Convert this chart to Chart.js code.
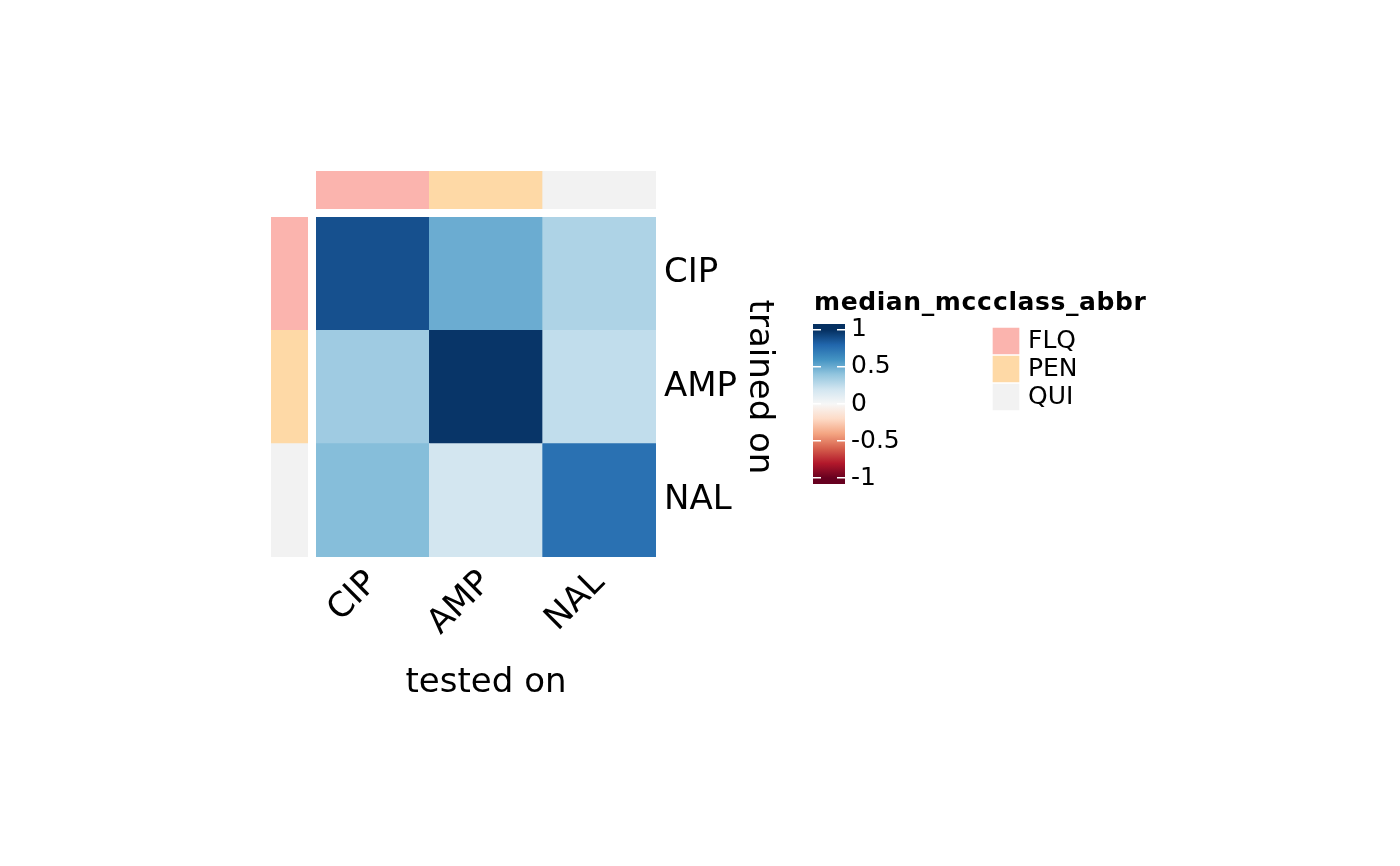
<!DOCTYPE html>
<html><head><meta charset="utf-8">
<script src="https://cdn.jsdelivr.net/npm/chart.js@4/dist/chart.umd.min.js"></script>
<style>
html,body{margin:0;padding:0;background:#fff;width:1400px;height:866px;overflow:hidden;font-family:"DejaVu Sans";}
canvas{position:absolute;}
.ttl{position:absolute;font:bold 25px "DejaVu Sans";line-height:25px;letter-spacing:0.6px;color:#000;white-space:nowrap;}
</style></head><body>
<canvas id="top" width="340" height="38" style="left:316px;top:171px"></canvas>
<canvas id="left" width="37" height="340" style="left:271px;top:217px"></canvas>
<canvas id="heat" width="463" height="487" style="left:316px;top:217px"></canvas>
<canvas id="cbar" width="130" height="202" style="left:813px;top:303px"></canvas>
<canvas id="cls" width="140" height="130" style="left:992px;top:304px"></canvas>
<div class="ttl" style="left:814px;top:289px">median_mcc</div>
<div class="ttl" style="left:993px;top:289px">class_abbr</div>
<script>
// ---- data ----
const testedOn = ['CIP', 'AMP', 'NAL'];          // columns
const trainedOn = ['CIP', 'AMP', 'NAL'];         // rows (top to bottom)
const mccCIP = [0.88, 0.50, 0.31];
const mccAMP = [0.36, 0.98, 0.25];
const mccNAL = [0.43, 0.19, 0.75];
const colClass = ['FLQ', 'PEN', 'QUI'];
const rowClass = ['FLQ', 'PEN', 'QUI'];
const classNames = ['FLQ', 'PEN', 'QUI'];
const classColors = ['#FBB4AE', '#FED9A6', '#F2F2F2'];
const cbTicks = [-1, -0.5, 0, 0.5, 1];
const cbLabels = ['-1', '-0.5', '0', '0.5', '1'];
const rdbu = ['#67001f','#b2182b','#d6604d','#f4a582','#fddbc7','#f7f7f7','#d1e5f0','#92c5de','#4393c3','#2166ac','#053061'];

const mccRows = [mccCIP, mccAMP, mccNAL];
Chart.defaults.font.family = 'DejaVu Sans';
Chart.defaults.color = '#000';
Chart.defaults.animation = false;
Chart.defaults.plugins.legend.display = false;
Chart.defaults.plugins.tooltip.enabled = false;

function hex2rgb(h){return [parseInt(h.slice(1,3),16),parseInt(h.slice(3,5),16),parseInt(h.slice(5,7),16)];}
function colorFor(v){
  const t = (Math.max(-1, Math.min(1, v)) + 1) / 2 * (rdbu.length - 1);
  const i = Math.min(rdbu.length - 2, Math.floor(t)), f = t - i;
  const a = hex2rgb(rdbu[i]), b = hex2rgb(rdbu[i+1]);
  const c = a.map((x,k)=>Math.round(x + (b[k]-x)*f));
  return 'rgb(' + c.join(',') + ')';
}
const classColor = n => classColors[classNames.indexOf(n)];
const noPad = s => { s.paddingTop = 0; s.paddingBottom = 0; s.paddingLeft = 0; s.paddingRight = 0; };

// ---- top annotation ----
new Chart(document.getElementById('top'), {
  type: 'bar',
  data: { labels: testedOn, datasets: [{ data: testedOn.map(()=>1), backgroundColor: colClass.map(classColor), borderWidth: 0, barPercentage: 1, categoryPercentage: 1 }] },
  options: { responsive: false, layout: { padding: 0, autoPadding: false },
    scales: { x: { display: false }, y: { display: false, min: 0, max: 1 } } }
});

// ---- left annotation ----
new Chart(document.getElementById('left'), {
  type: 'bar',
  data: { labels: trainedOn, datasets: [{ data: trainedOn.map(()=>1), backgroundColor: rowClass.map(classColor), borderWidth: 0, barPercentage: 1, categoryPercentage: 1 }] },
  options: { indexAxis: 'y', responsive: false, layout: { padding: 0, autoPadding: false },
    scales: { y: { display: false }, x: { display: false, min: 0, max: 1 } } }
});

// ---- heatmap ----
const heatSets = trainedOn.map((r, i) => ({
  label: r, data: testedOn.map(()=>1), backgroundColor: mccRows[i].map(colorFor),
  borderWidth: 0, barPercentage: 1, categoryPercentage: 1
})).reverse();
new Chart(document.getElementById('heat'), {
  type: 'bar',
  data: { labels: testedOn, datasets: heatSets },
  options: { responsive: false, layout: { padding: 0, autoPadding: false },
    scales: {
      x: { stacked: true, offset: true,
        grid: { display: false, drawTicks: false }, border: { display: false },
        ticks: { font: { size: 34 }, color: '#000', minRotation: 45, maxRotation: 45, autoSkip: false, padding: 6 },
        title: { display: true, text: 'tested on', font: { size: 34 }, color: '#000', padding: 0 },
        afterFit: s => { s.height = 147; noPad(s); } },
      y: { stacked: true, display: false, min: 0, max: 3 },
      y2: { type: 'category', labels: trainedOn, position: 'right', offset: true,
        grid: { display: false, drawTicks: false }, border: { display: false },
        ticks: { font: { size: 34 }, color: '#000', padding: 8, autoSkip: false },
        title: { display: true, text: 'trained on', font: { size: 34 }, color: '#000', padding: 0 },
        afterFit: s => { s.width = 123; noPad(s); } }
    } }
});

// ---- colour bar ----
new Chart(document.getElementById('cbar'), {
  type: 'bar',
  data: { labels: ['median_mcc'], datasets: [{
    data: [[-1.08, 1.08]], borderWidth: 0, barPercentage: 1, categoryPercentage: 1,
    backgroundColor: (ctx) => {
      const ch = ctx.chart; if (!ch.chartArea) return '#ffffff';
      const y = ch.scales.y;
      const g = ch.ctx.createLinearGradient(0, y.getPixelForValue(-1), 0, y.getPixelForValue(1));
      rdbu.forEach((c, i) => g.addColorStop(i / (rdbu.length - 1), c));
      return g;
    } }] },
  options: { responsive: false, layout: { padding: { top: 20, bottom: 20, left: 0, right: 0 }, autoPadding: false },
    scales: {
      x: { display: false },
      y: { min: -1.08, max: 1.08, position: 'right', z: 1,
        afterBuildTicks: s => { s.ticks = cbTicks.map(v => ({ value: v })); },
        grid: { color: '#ffffff', lineWidth: 1.5, drawTicks: false, z: 1 },
        border: { display: false, dash: [8, 16] },
        ticks: { font: { size: 25 }, color: '#000', padding: 6, autoSkip: false,
          callback: v => cbLabels[cbTicks.indexOf(v)] },
        afterFit: s => { s.width = 98; } }
    } }
});

// ---- class legend ----
new Chart(document.getElementById('cls'), {
  type: 'bar',
  data: { labels: classNames, datasets: [{ data: classNames.map(()=>1), backgroundColor: classColors,
    borderColor: '#ffffff', borderWidth: 1, borderSkipped: false, barPercentage: 1, categoryPercentage: 1 }] },
  options: { indexAxis: 'y', responsive: false, layout: { padding: { top: 20, bottom: 20, left: 0, right: 0 }, autoPadding: false },
    scales: {
      x: { display: false, min: 0, max: 1 },
      y: { position: 'right', grid: { display: false, drawTicks: false }, border: { display: false },
        ticks: { font: { size: 25 }, color: '#000', padding: 8, autoSkip: false },
        afterFit: s => { s.width = 112; } }
    } }
});
</script>
</body></html>
